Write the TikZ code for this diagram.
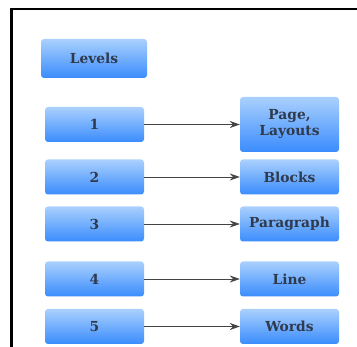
\documentclass[tikz,border=0pt]{standalone}
\usepackage{fontspec}
\setmainfont{DejaVu Serif}
\usetikzlibrary{arrows.meta}
\definecolor{boxtop}{HTML}{AAD0FD}
\definecolor{boxbot}{HTML}{3A8CFD}
\definecolor{txt}{HTML}{2F3A4D}
\definecolor{arr}{HTML}{444444}
\tikzset{
  lvlbox/.style={rectangle, rounded corners=3pt, top color=boxtop, bottom color=boxbot, draw=none,
    minimum width=99pt, minimum height=35pt, inner sep=0pt, text=txt,
    font=\fontsize{13.8}{16}\selectfont\bfseries, align=center},
  conn/.style={draw=arr, line width=0.8pt, -{Stealth[length=10pt,width=7pt]}}
}
\begin{document}
\begin{tikzpicture}[x=1pt,y=-1pt]
\fill[white] (0,0) rectangle (357,347);
\useasboundingbox (0,0) rectangle (357,347);
\draw[line width=2.5pt, black] (11.5,347) -- (11.5,9) -- (357,9);
\node[lvlbox, minimum width=106pt, minimum height=39pt] (lv) at (94,58.5) {Levels};
\node[lvlbox] (n1) at (94.5,124.5) {1};
\node[lvlbox] (n2) at (94.5,177) {2};
\node[lvlbox] (n3) at (94.5,224) {3};
\node[lvlbox] (n4) at (94.5,279) {4};
\node[lvlbox] (n5) at (94.5,326.5) {5};
\node[lvlbox, minimum height=55pt] (r1) at (289.5,124.5) {Page,\\Layouts};
\node[lvlbox] (r2) at (289.5,177) {Blocks};
\node[lvlbox] (r3) at (289.5,224) {Paragraph};
\node[lvlbox] (r4) at (289.5,279) {Line};
\node[lvlbox] (r5) at (289.5,326.5) {Words};
\draw[conn] (n1) -- (r1);
\draw[conn] (n2) -- (r2);
\draw[conn] (n3) -- (r3);
\draw[conn] (n4) -- (r4);
\draw[conn] (n5) -- (r5);
\end{tikzpicture}
\end{document}
